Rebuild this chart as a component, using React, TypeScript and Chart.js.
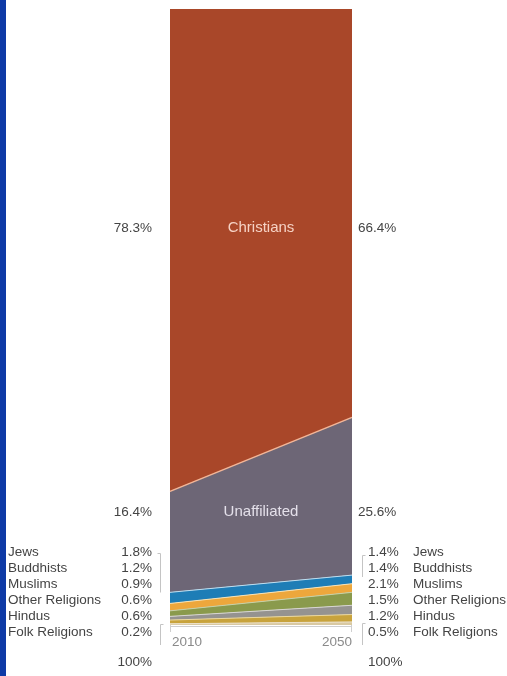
import React, { useEffect, useRef } from "react";
import { Chart, registerables } from "chart.js";

Chart.register(...registerables);

const years = ["2010", "2050"];
const groups = ["Christians", "Unaffiliated", "Jews", "Buddhists", "Muslims", "Other Religions", "Hindus", "Folk Religions"];
const share2010 = [78.3, 16.4, 1.8, 1.2, 0.9, 0.6, 0.6, 0.2];
const share2050 = [66.4, 25.6, 1.4, 1.4, 2.1, 1.5, 1.2, 0.5];
const fillColors = ["#A94729", "#6D6676", "#1E7DB6", "#EDA73C", "#8A9A4C", "#959390", "#C8A33C", "#D9C9A2"];
const lineColors = ["rgba(0,0,0,0)", "#F2B597", "#BFDDEE", "#F6E3B8", "#C9D1A8", "#D8D6D2", "#E9D7A0", "#ECE2CC"];
const totalLabel = "100%";

const fmt = (v: number) => v.toFixed(1) + "%";

const labelPlugin = {
  id: "sideLabels",
  afterDatasetsDraw(chart: any) {
    const { ctx, chartArea } = chart;
    const xs = chart.scales.x;
    const xL = xs.getPixelForValue(0);
    const xR = xs.getPixelForValue(1);
    const small = "13.5px 'Liberation Sans', Arial, sans-serif";
    const big = "15px 'Liberation Sans', Arial, sans-serif";
    ctx.save();
    ctx.textBaseline = "middle";

    // big group labels
    const bigY = [228, 512];
    for (let i = 0; i < 2; i++) {
      const y = bigY[i];
      ctx.font = big;
      ctx.textAlign = "center";
      ctx.fillStyle = i === 0 ? "#F6D2C4" : "#E4E0EA";
      ctx.fillText(groups[i], (xL + xR) / 2, y);
      ctx.font = small;
      ctx.fillStyle = "#444";
      ctx.textAlign = "right";
      ctx.fillText(fmt(share2010[i]), xL - 18, y);
      ctx.textAlign = "left";
      ctx.fillText(fmt(share2050[i]), xR + 6, y);
    }

    // small group labels
    for (let i = 2; i < groups.length; i++) {
      const y = 552 + (i - 2) * 16;
      ctx.font = small;
      ctx.fillStyle = "#444";
      ctx.textAlign = "left";
      ctx.fillText(groups[i], 8, y);
      ctx.textAlign = "right";
      ctx.fillText(fmt(share2010[i]), xL - 18, y);
      ctx.textAlign = "left";
      ctx.fillText(fmt(share2050[i]), xR + 16, y);
      ctx.fillText(groups[i], xR + 61, y);
    }
    ctx.textAlign = "right";
    ctx.fillText(totalLabel, xL - 18, 662);
    ctx.textAlign = "left";
    ctx.fillText(totalLabel, xR + 16, 662);

    // year labels
    ctx.fillStyle = "#8a8a8a";
    ctx.font = small;
    ctx.textAlign = "left";
    ctx.fillText(years[0], xL + 2, 642);
    ctx.textAlign = "right";
    ctx.fillText(years[1], xR, 642);

    // axis line and end ticks
    ctx.strokeStyle = "#cfcfcf";
    ctx.lineWidth = 1;
    ctx.beginPath();
    ctx.moveTo(xL, chartArea.bottom + 1.5);
    ctx.lineTo(xR, chartArea.bottom + 1.5);
    ctx.moveTo(xL + 0.5, chartArea.bottom);
    ctx.lineTo(xL + 0.5, chartArea.bottom + 7);
    ctx.moveTo(xR - 0.5, chartArea.bottom);
    ctx.lineTo(xR - 0.5, chartArea.bottom + 7);
    ctx.stroke();

    // brackets
    ctx.strokeStyle = "#c4c4c4";
    ctx.beginPath();
    const lb = xL - 9.5;
    ctx.moveTo(lb - 3, 553.5); ctx.lineTo(lb, 553.5); ctx.lineTo(lb, 592.5);
    ctx.moveTo(lb + 3, 624.5); ctx.lineTo(lb, 624.5); ctx.lineTo(lb, 645);
    const rb = xR + 10.5;
    ctx.moveTo(rb + 3, 555.5); ctx.lineTo(rb, 555.5); ctx.lineTo(rb, 577);
    ctx.moveTo(rb + 3, 623.5); ctx.lineTo(rb, 623.5); ctx.lineTo(rb, 645);
    ctx.stroke();
    ctx.restore();
  },
};

export default function App() {
  const ref = useRef<HTMLCanvasElement | null>(null);
  useEffect(() => {
    if (!ref.current) return;
    const order = groups.map((_, i) => i).reverse();
    const datasets = order.map((i, k) => ({
      label: groups[i],
      data: [share2010[i], share2050[i]],
      backgroundColor: fillColors[i],
      borderColor: lineColors[i],
      borderWidth: i === 0 ? 0 : i === 1 ? 1.5 : 1,
      pointRadius: 0,
      tension: 0,
      fill: k === 0 ? "origin" : "-1",
    }));
    const chart = new Chart(ref.current, {
      type: "line",
      data: { labels: years, datasets },
      options: {
        animation: false,
        responsive: false,
        maintainAspectRatio: false,
        layout: { padding: { left: 170, right: 155, top: 9, bottom: 51 } },
        plugins: { legend: { display: false }, tooltip: { enabled: false } },
        scales: {
          x: { display: false, offset: false },
          y: { display: false, stacked: true, min: 0, max: 100 },
        },
      },
      plugins: [labelPlugin],
    });
    return () => chart.destroy();
  }, []);
  return (
    <div style={{ position: "fixed", left: 0, top: 0, width: 507, height: 676, background: "#fff" }}>
      <div style={{ position: "absolute", left: 0, top: 0, width: 6, height: 676, background: "#0E3AA6" }} />
      <canvas ref={ref} width={507} height={676} style={{ position: "absolute", left: 0, top: 0, width: 507, height: 676 }} />
    </div>
  );
}
